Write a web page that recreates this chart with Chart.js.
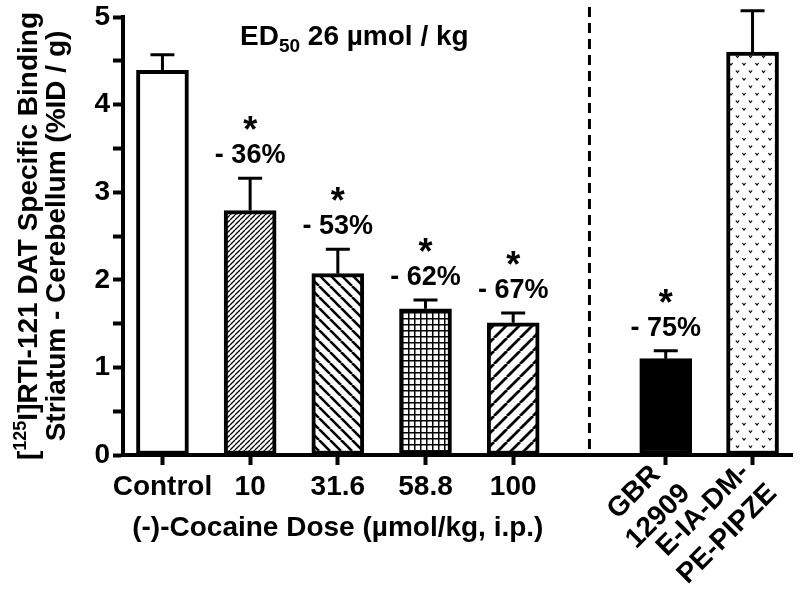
<!DOCTYPE html>
<html>
<head>
<meta charset="utf-8">
<script src="https://cdn.jsdelivr.net/npm/chart.js@4.4.0/dist/chart.umd.min.js"></script>
<style>
  body { margin: 0; background: #fff; }
</style>
</head>
<body>
<canvas id="binding-chart" width="800" height="593"></canvas>
<script>
// groups on the x axis (uneven spacing: gap before the reference compounds)
const tickLabels = [['Control'], ['10'], ['31.6'], ['58.8'], ['100'], ['GBR', '12909'], ['E-IA-DM-', 'PE-PIPZE']];
const xPositions = [1, 2, 3, 4, 5, 6.74, 7.73];
const means = [4.39, 2.79, 2.07, 1.67, 1.51, 1.10, 4.60];
const sems = [0.18, 0.37, 0.28, 0.10, 0.11, 0.09, 0.47];
const pctLabels = ['', '- 36%', '- 53%', '- 62%', '- 67%', '- 75%', ''];
const significant = [false, true, true, true, true, true, false];
const separatorAt = 5.87;

function fontOf(size) {
    return 'bold ' + size + 'px "Liberation Sans", Arial, sans-serif';
}

var canvas = document.getElementById('binding-chart');
var ctx = canvas.getContext('2d');

function hatch(size, lw, dir) {
    var c = document.createElement('canvas');
    c.width = c.height = size;
    var g = c.getContext('2d');
    g.fillStyle = '#fff';
    g.fillRect(0, 0, size, size);
    g.strokeStyle = '#000';
    g.lineWidth = lw;
    g.beginPath();
    [-size, 0, size].forEach(o => {
        if (dir === '/') { g.moveTo(o, size); g.lineTo(o + size, 0); }
        else { g.moveTo(o, 0); g.lineTo(o + size, size); }
    });
    g.stroke();
    return ctx.createPattern(c, 'repeat');
}

function gridPattern() {
    var c = document.createElement('canvas');
    c.width = c.height = 6;
    var g = c.getContext('2d');
    g.fillStyle = '#fff';
    g.fillRect(0, 0, 6, 6);
    g.fillStyle = '#000';
    g.fillRect(0, 0, 6, 1.5);
    g.fillRect(0, 0, 1.5, 6);
    return ctx.createPattern(c, 'repeat');
}

function dotPattern() {
    var c = document.createElement('canvas');
    c.width = 13; c.height = 15;
    var g = c.getContext('2d');
    g.fillStyle = '#fff';
    g.fillRect(0, 0, 13, 15);
    g.strokeStyle = '#000';
    g.lineWidth = 1.2;
    g.beginPath();
    [[3, 3], [9.5, 10.5]].forEach(p => {
        g.moveTo(p[0] - 1.6, p[1]);
        g.lineTo(p[0], p[1] + 2);
        g.lineTo(p[0] + 1.6, p[1]);
    });
    g.stroke();
    return ctx.createPattern(c, 'repeat');
}

var fills = ['#fff', hatch(5, 1.3, '/'), hatch(11, 2.6, '\\'), gridPattern(), hatch(13, 2.8, '/'), '#000', dotPattern()];

function drawRich(c, pieces, x, y, align) {
    var total = 0;
    pieces.forEach(p => { c.font = fontOf(p.size); p.w = c.measureText(p.text).width; total += p.w; });
    var cx = align === 'left' ? x : x - total / 2;
    c.textAlign = 'left';
    c.textBaseline = 'alphabetic';
    pieces.forEach(p => {
        c.font = fontOf(p.size);
        c.fillText(p.text, cx, y + (p.dy || 0));
        cx += p.w;
    });
}

const decorations = {
    id: 'decorations',
    afterDatasetsDraw(chart) {
        var c = chart.ctx;
        var xs = chart.scales.x, ys = chart.scales.y;
        var area = chart.chartArea;
        var meta = chart.getDatasetMeta(0);
        c.save();
        c.strokeStyle = '#000';
        c.fillStyle = '#000';

        // error bars (upper only) + significance labels
        meta.data.forEach((bar, i) => {
            var top = ys.getPixelForValue(means[i] + sems[i]);
            c.lineWidth = 3;
            c.beginPath();
            c.moveTo(bar.x, bar.y);
            c.lineTo(bar.x, top);
            c.moveTo(bar.x - 12, top);
            c.lineTo(bar.x + 12, top);
            c.stroke();
            if (significant[i]) {
                c.textAlign = 'center';
                c.textBaseline = 'alphabetic';
                c.font = fontOf(36);
                c.fillText('*', bar.x, top - 36);
                c.font = fontOf(27);
                c.fillText(pctLabels[i], bar.x, top - 15);
            }
        });

        // dashed separator
        var sx = xs.getPixelForValue(separatorAt);
        c.lineWidth = 3;
        c.setLineDash([10, 6]);
        c.beginPath();
        c.moveTo(sx, area.top - 10);
        c.lineTo(sx, area.bottom);
        c.stroke();
        c.setLineDash([]);

        // ED50 note
        drawRich(c, [
            { text: 'ED', size: 28 },
            { text: '50', size: 19, dy: 7 },
            { text: ' 26 \u00b5mol / kg', size: 28 }
        ], area.left + 117, area.top + 28, 'left');

        // x tick labels
        xPositions.forEach((v, i) => {
            var px = xs.getPixelForValue(v);
            var lines = tickLabels[i];
            c.font = fontOf(28);
            if (lines.length === 1) {
                c.textAlign = 'center';
                c.textBaseline = 'alphabetic';
                c.fillText(lines[0], px, area.bottom + 40);
            } else {
                var maxW = Math.max.apply(null, lines.map(l => c.measureText(l).width));
                c.save();
                c.translate(px + 8, area.bottom + 22);
                c.rotate(-Math.PI / 4);
                c.textAlign = 'center';
                c.textBaseline = 'middle';
                lines.forEach((ln, k) => {
                    c.fillText(ln, -maxW / 2, (k - (lines.length - 1) / 2) * 34);
                });
                c.restore();
            }
        });

        // x axis title, centred under the cocaine doses
        var mid = (xs.getPixelForValue(xPositions[0]) + xs.getPixelForValue(xPositions[4])) / 2;
        c.font = fontOf(28);
        c.textAlign = 'center';
        c.textBaseline = 'alphabetic';
        c.fillText('(-)-Cocaine Dose (\u00b5mol/kg, i.p.)', mid, area.bottom + 81);

        // y axis title (two lines, rotated)
        var cy = (area.top + area.bottom) / 2;
        c.save();
        c.translate(37, cy);
        c.rotate(-Math.PI / 2);
        drawRich(c, [
            { text: '[', size: 28 },
            { text: '125', size: 18, dy: -11 },
            { text: 'I]RTI-121 DAT Specific Binding', size: 28 }
        ], 0, 0);
        c.restore();
        c.save();
        c.translate(65, cy);
        c.rotate(-Math.PI / 2);
        drawRich(c, [{ text: 'Striatum - Cerebellum (%ID / g)', size: 28 }], 0, 0);
        c.restore();

        c.restore();
    }
};

new Chart(ctx, {
    type: 'bar',
    data: {
        datasets: [{
            data: xPositions.map((x, i) => ({ x: x, y: means[i] })),
            backgroundColor: fills,
            borderColor: '#000',
            borderWidth: 4,
            borderSkipped: false,
            barThickness: 52
        }]
    },
    options: {
        responsive: false,
        animation: false,
        devicePixelRatio: 1,
        layout: { padding: { left: 0, right: 8, top: 15, bottom: 0 } },
        plugins: {
            legend: { display: false },
            tooltip: { enabled: false }
        },
        scales: {
            x: {
                type: 'linear',
                offset: false,
                min: 0.55,
                max: 8.18,
                afterBuildTicks: scale => { scale.ticks = xPositions.map(v => ({ value: v })); },
                afterFit: scale => { scale.height = 138; },
                ticks: { display: false },
                grid: { offset: false, drawOnChartArea: false, drawTicks: true, tickLength: 10, tickWidth: 4, tickColor: '#000' },
                border: { display: true, width: 4, color: '#000' }
            },
            y: {
                min: 0,
                max: 5,
                afterFit: scale => { scale.width = 123; },
                ticks: {
                    stepSize: 0.5,
                    autoSkip: false,
                    padding: 3,
                    color: '#000',
                    font: { family: '"Liberation Sans", Arial, sans-serif', size: 28, weight: 'bold', lineHeight: 1 },
                    callback: v => Number.isInteger(v) ? v : ''
                },
                grid: { drawOnChartArea: false, drawTicks: true, tickLength: 10, tickWidth: 4, tickColor: '#000' },
                border: { display: true, width: 4, color: '#000' }
            }
        }
    },
    plugins: [decorations]
});
</script>
</body>
</html>
